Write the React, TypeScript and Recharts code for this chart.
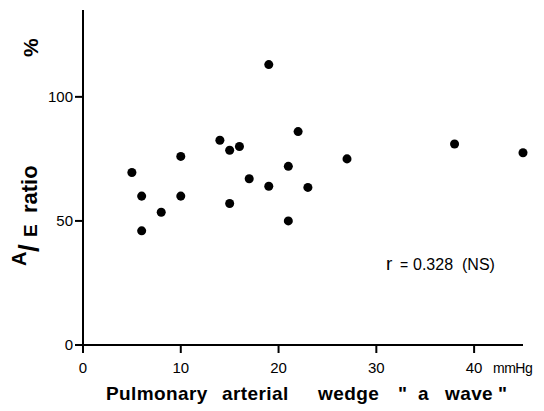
import { Scatter, ScatterChart, XAxis, YAxis } from "recharts"

const wedgeA = [5, 6, 6, 8, 10, 10, 14, 15, 15, 16, 17, 19, 19, 21, 21, 22, 23, 27, 38, 45]
const aeRatio = [69.5, 60, 46, 53.5, 76, 60, 82.5, 78.5, 57, 80, 67, 113, 64, 72, 50, 86, 63.5, 75, 81, 77.5]
const xTicks = [0, 10, 20, 30, 40]
const yTicks = [0, 50, 100]

const points = wedgeA.map((x, i) => ({ x, y: aeRatio[i] }))

const font = "'Liberation Sans', Arial, sans-serif"

function XTick({ x, y, payload }: any) {
  return (
    <text x={x} y={y + 20} textAnchor="middle" fontFamily={font} fontSize={15} fill="#000">
      {payload.value}
    </text>
  )
}

function YTick({ x, y, payload }: any) {
  return (
    <text x={x - 2} y={y + 5} textAnchor="end" fontFamily={font} fontSize={15} fill="#000">
      {payload.value}
    </text>
  )
}

export default function App() {
  return (
    <div style={{ position: "absolute", left: 0, top: 0, width: 544, height: 411, background: "#fff" }}>
      <ScatterChart width={544} height={411} margin={{ top: 10, right: 21, bottom: 0, left: 0 }}>
        <XAxis
          type="number"
          dataKey="x"
          domain={[0, 45]}
          ticks={xTicks}
          height={66}
          tickSize={8}
          tickMargin={0}
          tickLine={{ stroke: "#000", strokeWidth: 2 }}
          axisLine={{ stroke: "#000", strokeWidth: 2 }}
          tick={<XTick />}
        />
        <YAxis
          type="number"
          dataKey="y"
          domain={[0, 135]}
          ticks={yTicks}
          width={83}
          tickSize={8}
          tickMargin={0}
          tickLine={{ stroke: "#000", strokeWidth: 2 }}
          axisLine={{ stroke: "#000", strokeWidth: 2 }}
          tick={<YTick />}
        />
        <Scatter data={points} fill="#000" isAnimationActive={false} />
        <g fontFamily={font} fill="#000">
          <text x={493} y={373} fontSize={14} letterSpacing={-0.5}>mmHg</text>
          <text y={400} fontSize={19} fontWeight="bold" letterSpacing={0.4}>
            <tspan x={106}>Pulmonary</tspan>
            <tspan x={222}>arterial</tspan>
            <tspan x={318}>wedge</tspan>
            <tspan x={398}>"</tspan>
            <tspan x={418}>a</tspan>
            <tspan x={445}>wave</tspan>
            <tspan x={498}>"</tspan>
          </text>
          <text transform="rotate(-90)" fontWeight="bold">
            <tspan x={-266} y={26} fontSize={20}>A</tspan>
            <tspan x={-252} y={38} fontSize={28}>/</tspan>
            <tspan x={-237} y={37} fontSize={19}>E</tspan>
            <tspan x={-213} y={37} fontSize={22}>ratio</tspan>
          </text>
          <text transform="rotate(-90)" x={-57} y={38} fontSize={21} fontWeight="bold">%</text>
          <text y={270} fontSize={16}>
            <tspan x={386} fontSize={19}>r</tspan>
            <tspan x={400} fontSize={14}>=</tspan>
            <tspan x={413}>0.328</tspan>
            <tspan x={462}>(NS)</tspan>
          </text>
        </g>
      </ScatterChart>
    </div>
  )
}
